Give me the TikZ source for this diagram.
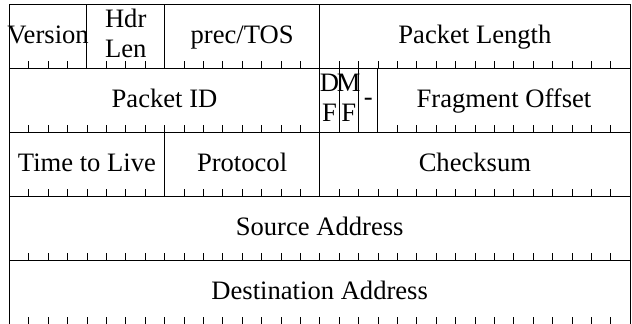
\documentclass[tikz,border=0pt]{standalone}
\usepackage{fontspec}
\setmainfont{Liberation Serif}

\tikzset{
  field/.style={font=\fontsize{26.6}{30}\selectfont, inner sep=0pt, anchor=base},
  rule/.style={black, line width=1.1pt},
  bittick/.style={black, line width=0.7pt},
}
% ticks along the bottom of a row, one per bit
\newcommand{\bitticks}[3]{\foreach \b in {#2,...,#3} \draw[bittick] (\b,-#1) -- ++(0,7pt);}

\begin{document}
\begin{tikzpicture}[x=19.4pt, y=64pt]
            \useasboundingbox (-9.3pt,4.3pt) rectangle (622.7pt,-319.7pt);

            % frame and rows
            \draw[rule] (0,0) rectangle (32,-5);
            \draw[rule] (0,-1) -- (32,-1);
            \draw[rule] (0,-2) -- (32,-2);
            \draw[rule] (0,-3) -- (32,-3);
            \draw[rule] (0,-4) -- (32,-4);

            % field borders
            \draw[rule] (4,0) -- (4,-1);
            \draw[rule] (8,0) -- (8,-1);
            \draw[rule] (16,0) -- (16,-1);

            \draw[rule] (16,-1) -- (16,-2);
            \draw[rule] (17,-1) -- (17,-2);
            \draw[rule] (18,-1) -- (18,-2);
            \draw[rule] (19,-1) -- (19,-2);

            \draw[rule] (8,-2) -- (8,-3);
            \draw[rule] (16,-2) -- (16,-3);

            % bit ticks
            \bitticks{1}{1}{3}
            \bitticks{1}{5}{7}
            \bitticks{1}{9}{15}
            \bitticks{1}{17}{31}
            \bitticks{2}{1}{15}
            \bitticks{2}{20}{31}
            \bitticks{3}{1}{7}
            \bitticks{3}{9}{15}
            \bitticks{3}{17}{31}
            \bitticks{4}{1}{31}
            \bitticks{5}{1}{31}

            % labels
            \node[field] (version) at (2,-0.61) {Version};
            \node[field] (hdr) at (6,-0.36) {Hdr};
            \node[field] (len) at (6,-0.83) {Len};
            \node[field] (tos) at (12,-0.61) {prec/TOS};
            \node[field] (length) at (24,-0.61) {Packet Length};

            \node[field] (id) at (8,-1.61) {Packet ID};
            \node[field] (d) at (16.5,-1.36) {D};
            \node[field] (f1) at (16.5,-1.83) {F};
            \node[field] (m) at (17.5,-1.36) {M};
            \node[field] (f2) at (17.5,-1.83) {F};
            \node[field] (spare) at (18.5,-1.58) {-};
            \node[field] (offset) at (25.5,-1.61) {Fragment Offset};

            \node[field] (ttl) at (4,-2.61) {Time to Live};
            \node[field] (proto) at (12,-2.61) {Protocol};
            \node[field] (csum) at (24,-2.61) {Checksum};

            \node[field] (src) at (16,-3.61) {Source Address};
            \node[field] (dst) at (16,-4.61) {Destination Address};
        \end{tikzpicture}
\end{document}
